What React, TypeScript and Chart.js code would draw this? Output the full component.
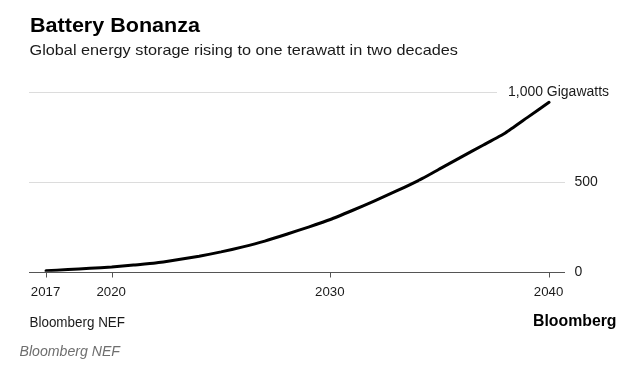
import React, { useEffect, useRef } from "react";
import { Chart, registerables } from "chart.js";

Chart.register(...registerables);

const years = [2017, 2018, 2019, 2020, 2021, 2022, 2023, 2024, 2025, 2026, 2027, 2028, 2029, 2030, 2031, 2032, 2033, 2034, 2035, 2036, 2037, 2038, 2039, 2040];
const storageGW = [5, 12, 19, 26, 37, 48, 66, 86, 110, 138, 170, 208, 248, 290, 340, 392, 447, 505, 571, 638, 704, 771, 856, 941];
const xTicks = [2017, 2020, 2030, 2040];
const yTicks = [0, 500, 1000];
const yTickLabels = ["0", "500", "1,000 Gigawatts"];

const title = "Battery Bonanza";
const subtitle = "Global energy storage rising to one terawatt in two decades";
const sourceLeft = "Bloomberg NEF";
const brand = "Bloomberg";
const caption = "Bloomberg NEF";

const FONT = '"Liberation Sans", Arial, Helvetica, sans-serif';

function fillFit(ctx: CanvasRenderingContext2D, text: string, x: number, y: number, w: number, align: "left" | "right" | "center" = "left") {
  const m = ctx.measureText(text).width;
  const s = w / m;
  ctx.save();
  let x0 = x;
  if (align === "right") x0 = x - w;
  if (align === "center") x0 = x - w / 2;
  ctx.translate(x0, y);
  ctx.scale(s, 1);
  ctx.textAlign = "left";
  ctx.fillText(text, 0, 0);
  ctx.restore();
}

const decorPlugin = {
  id: "decor",
  beforeDatasetsDraw(chart: any) {
    const ctx: CanvasRenderingContext2D = chart.ctx;
    const xs = chart.scales.x;
    const ys = chart.scales.y;
    const { left, right } = chart.chartArea;
    ctx.save();
    // gridlines
    ctx.strokeStyle = "#dcdcdc";
    ctx.lineWidth = 1;
    yTicks.forEach((v, i) => {
      if (v === 0) return;
      const y = Math.round(ys.getPixelForValue(v)) + 0.5;
      const end = i === yTicks.length - 1 ? 497 : right;
      ctx.beginPath();
      ctx.moveTo(left, y);
      ctx.lineTo(end, y);
      ctx.stroke();
    });
    // axis line
    const y0 = Math.round(ys.getPixelForValue(0)) + 0.5;
    ctx.strokeStyle = "#555";
    ctx.beginPath();
    ctx.moveTo(left, y0);
    ctx.lineTo(right, y0);
    ctx.stroke();
    // ticks
    xTicks.forEach((t) => {
      const x = Math.round(xs.getPixelForValue(t)) + 0.5;
      ctx.beginPath();
      ctx.moveTo(x, y0);
      ctx.lineTo(x, y0 + 5);
      ctx.stroke();
    });
    ctx.restore();
  },
  afterDraw(chart: any) {
    const ctx: CanvasRenderingContext2D = chart.ctx;
    const xs = chart.scales.x;
    const ys = chart.scales.y;
    ctx.save();
    ctx.textBaseline = "alphabetic";
    // title
    ctx.fillStyle = "#000";
    ctx.font = `bold 21px ${FONT}`;
    fillFit(ctx, title, 30, 31.5, 170);
    ctx.fillStyle = "#1a1a1a";
    ctx.font = `15px ${FONT}`;
    fillFit(ctx, subtitle, 29.5, 54.5, 428.5);
    // x tick labels
    ctx.fillStyle = "#1a1a1a";
    ctx.font = `13px ${FONT}`;
    xTicks.forEach((t) => {
      const x = xs.getPixelForValue(t);
      const wlab = ctx.measureText(String(t)).width;
      fillFit(ctx, String(t), x - 0.5, 296, wlab * 1.02, "center");
    });
    // y tick labels
    ctx.font = `14px ${FONT}`;
    yTicks.forEach((v, i) => {
      const y = ys.getPixelForValue(v) + 4.5;
      const lab = yTickLabels[i];
      if (i === yTicks.length - 1) {
        fillFit(ctx, lab, 609, y, 101, "right");
      } else {
        ctx.textAlign = "left";
        ctx.fillText(lab, 574.5, y);
      }
    });
    // sources
    ctx.font = `14px ${FONT}`;
    fillFit(ctx, sourceLeft, 29.5, 326.5, 95.5);
    ctx.fillStyle = "#000";
    ctx.font = `bold 16px ${FONT}`;
    fillFit(ctx, brand, 616.5, 326, 83.5, "right");
    ctx.fillStyle = "#6e6e6e";
    ctx.font = `italic 15px ${FONT}`;
    fillFit(ctx, caption, 19.5, 355.5, 100.5);
    ctx.restore();
  },
};

export default function App() {
  const ref = useRef<HTMLCanvasElement | null>(null);
  useEffect(() => {
    document.body.style.margin = "0";
    document.body.style.background = "#fff";
    const canvas = ref.current!;
    const chart = new Chart(canvas, {
      type: "line",
      data: {
        datasets: [
          {
            data: years.map((y, i) => ({ x: y, y: storageGW[i] })),
            borderColor: "#000",
            borderWidth: 3,
            pointRadius: 0,
            tension: 0.15,
            borderCapStyle: "round",
            borderJoinStyle: "round",
            fill: false,
          },
        ],
      },
      options: {
        animation: false,
        responsive: false,
        devicePixelRatio: 1,
        layout: { padding: { left: 29, right: 72, top: 91.7, bottom: 107.3 } },
        plugins: { legend: { display: false }, tooltip: { enabled: false } },
        scales: {
          x: { type: "linear", display: false, min: 2016.22, max: 2040.73 },
          y: { type: "linear", display: false, min: 0, max: 1000 },
        },
      },
      plugins: [decorPlugin],
    } as any);
    return () => chart.destroy();
  }, []);
  return (
    <div style={{ width: 637, height: 379, background: "#fff" }}>
      <canvas ref={ref} width={637} height={379} style={{ display: "block" }} />
    </div>
  );
}
